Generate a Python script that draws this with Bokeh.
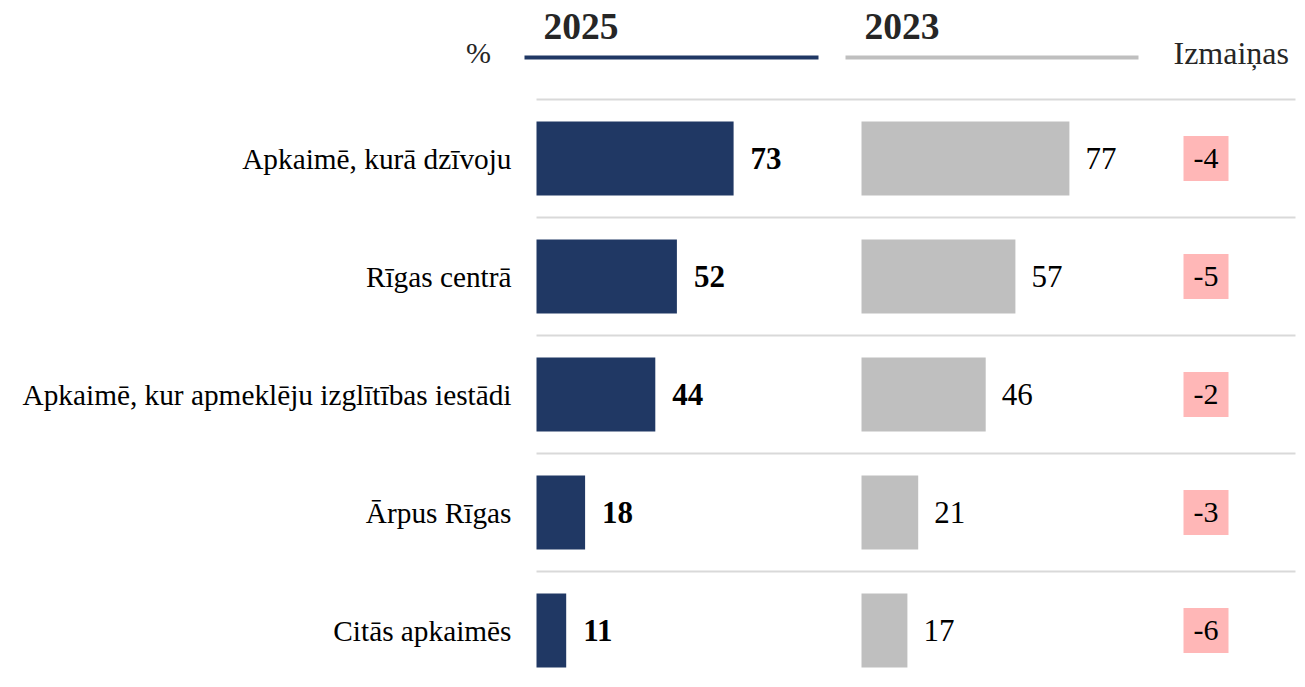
from bokeh.plotting import figure
from bokeh.models import Range1d, ColumnDataSource
from bokeh.core.properties import value
from bokeh.embed import file_html
from bokeh.resources import INLINE

categories = ["Apkaimē, kurā dzīvoju", "Rīgas centrā",
              "Apkaimē, kur apmeklēju izglītības iestādi", "Ārpus Rīgas", "Citās apkaimēs"]
values_2025 = [73, 52, 44, 18, 11]
values_2023 = [77, 57, 46, 21, 17]
changes = [a - b for a, b in zip(values_2025, values_2023)]
series_names = ["2025", "2023"]
unit_label = "%"
change_label = "Izmaiņas"

NAVY = "#203864"
GRAY = "#BFBFBF"
PINK = "#FFB7B7"
GRID = "#D9D9D9"
SERIF = "Liberation Serif"

W, H = 1300, 680
K = 2.7            # px per percentage point
X25, X23 = 536, 861
ROW0, STEP, BAR_H = 158, 118, 74
CHG_X = 1205.5

p = figure(width=W, height=H, output_backend="svg", toolbar_location=None,
           x_range=Range1d(0, W), y_range=Range1d(H, 0),
           x_axis_location=None, y_axis_location=None, min_border=0)
p.outline_line_color = None
p.xgrid.visible = False
p.ygrid.visible = False

n = len(categories)
ys = [ROW0 + i * STEP for i in range(n)]

src = ColumnDataSource(dict(
    y=ys, cat=categories,
    l25=[X25] * n, r25=[X25 + v * K for v in values_2025],
    l23=[X23] * n, r23=[X23 + v * K for v in values_2023],
    t25=[str(v) for v in values_2025], t23=[str(v) for v in values_2023],
    tx25=[X25 + v * K + 17 for v in values_2025],
    tx23=[X23 + v * K + 16 for v in values_2023],
    chg=[str(c) for c in changes], cx=[CHG_X] * n,
    lx=[511] * n,
))

# gridlines
gy = [y - STEP / 2 for y in ys]
p.segment(x0=[536] * n, x1=[1295] * n, y0=gy, y1=gy, line_color=GRID, line_width=2)

# bars
p.hbar(y="y", left="l25", right="r25", height=BAR_H, source=src, fill_color=NAVY, line_color=None)
p.hbar(y="y", left="l23", right="r23", height=BAR_H, source=src, fill_color=GRAY, line_color=None)

# value labels
p.text(x="tx25", y="y", text="t25", source=src, text_font=value(SERIF),
       text_font_size=value("31px"), text_font_style="bold", text_baseline="middle",
       text_color="#000000")
p.text(x="tx23", y="y", text="t23", source=src, text_font=value(SERIF),
       text_font_size=value("31px"), text_baseline="middle", text_color="#000000")

# category labels
p.text(x="lx", y="y", text="cat", source=src, text_font=value(SERIF),
       text_font_size=value("29.3px"), text_baseline="middle", text_align="right",
       text_color="#000000")

# change boxes
p.rect(x="cx", y="y", width=45, height=45, source=src, fill_color=PINK, line_color=None)
p.text(x="cx", y="y", text="chg", source=src, text_font=value(SERIF),
       text_font_size=value("30px"), text_baseline="middle", text_align="center",
       text_color="#000000")

# header
p.segment(x0=[524, 845], x1=[818, 1138], y0=[57, 57], y1=[57, 57],
          line_color=[NAVY, GRAY], line_width=4)
p.text(x=[543, 864], y=[26, 26], text=series_names, text_font=value(SERIF),
       text_font_size=value("37.5px"), text_font_style="bold", text_baseline="middle",
       text_color="#262626")
p.text(x=[478], y=[52], text=[unit_label], text_font=value(SERIF),
       text_font_size=value("30px"), text_baseline="middle", text_align="center",
       text_color="#262626")
p.text(x=[1173], y=[52], text=[change_label], text_font=value(SERIF),
       text_font_size=value("32px"), text_baseline="middle", text_color="#262626")

open("out.html", "w").write(file_html(p, INLINE))
